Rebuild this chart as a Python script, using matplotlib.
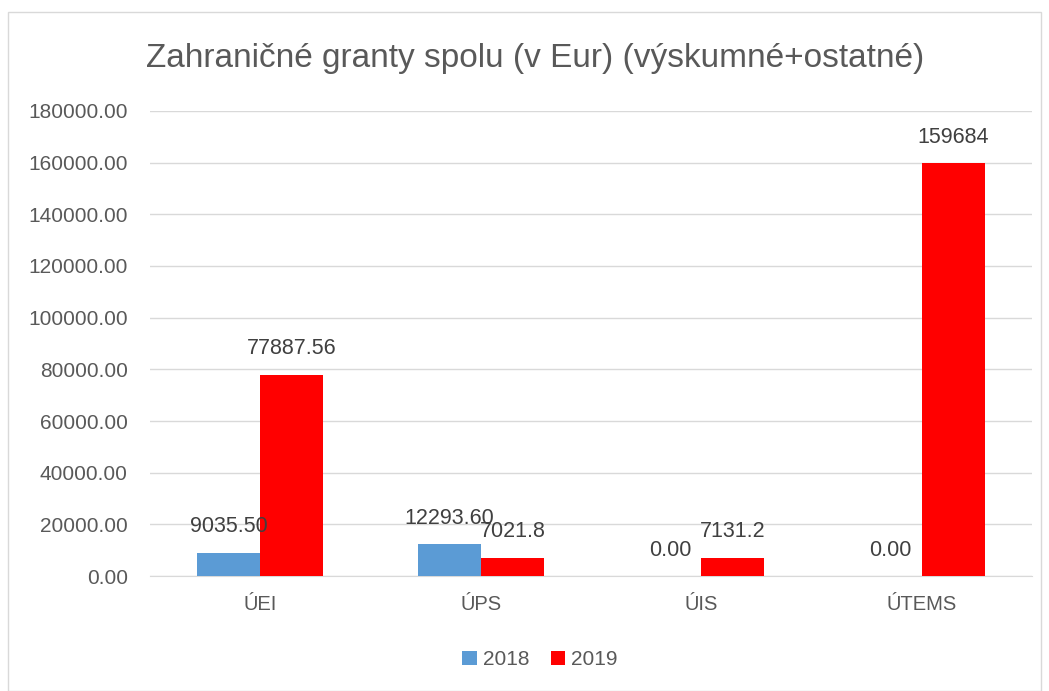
import matplotlib.pyplot as plt
import numpy as np
from matplotlib.patches import Rectangle

# data
categories = ["ÚEI", "ÚPS", "ÚIS", "ÚTEMS"]
values_2018 = [9035.50, 12293.60, 0.00, 0.00]
values_2019 = [77887.56, 7021.8, 7131.2, 159684]
labels_2018 = ["9035.50", "12293.60", "0.00", "0.00"]
labels_2019 = ["77887.56", "7021.8", "7131.2", "159684"]
yticks = np.arange(0, 180001, 20000)

plt.rcParams['font.family'] = ['Liberation Sans', 'DejaVu Sans']
txt = '#595959'

fig = plt.figure(figsize=(10.49, 6.91), dpi=100)
ax = fig.add_axes([0.143, 0.1664, 0.841, 0.673])

# ramik okolo grafu
fig.patches.append(Rectangle((0.008, 0.0), 0.984, 0.983, transform=fig.transFigure,
                             fill=False, edgecolor='#d9d9d9', linewidth=1))

x = np.arange(len(categories))
w = 0.286
ax.bar(x - w/2, values_2018, w, color='#5b9bd5', label='2018', zorder=3)
ax.bar(x + w/2, values_2019, w, color='#ff0000', label='2019', zorder=3)

# popisky hodnot
for xi, v, s in zip(x, values_2018, labels_2018):
    ax.text(xi - w/2, v + 6000, s, ha='center', va='bottom', fontsize=15.5, color='#404040', zorder=4)
for xi, v, s in zip(x, values_2019, labels_2019):
    ax.text(xi + w/2, v + 6000, s, ha='center', va='bottom', fontsize=15.5, color='#404040', zorder=4)

ax.set_xlim(-0.5, 3.5)
ax.set_ylim(0, 180000)
ax.set_yticks(yticks)
ax.set_yticklabels([f"{t:.2f}" for t in yticks])
ax.set_xticks(x)
ax.set_xticklabels(categories)
ax.tick_params(axis='y', length=0, labelsize=15, labelcolor=txt, pad=16)
ax.tick_params(axis='x', length=0, labelsize=14.5, labelcolor=txt, pad=14)
ax.grid(axis='y', color='#d9d9d9', linewidth=1, zorder=0)
for s in ['top', 'right', 'left']:
    ax.spines[s].set_visible(False)
ax.spines['bottom'].set_color('#d9d9d9')

fig.text(0.51, 0.915, "Zahraničné granty spolu (v Eur) (výskumné+ostatné)",
         ha='center', va='center', fontsize=24, color=txt)

leg = fig.legend(loc='center', bbox_to_anchor=(0.515, 0.045), ncol=2, frameon=False,
                 fontsize=15, handlelength=0.7, handleheight=0.7, handletextpad=0.3,
                 columnspacing=1.0)
for t in leg.get_texts():
    t.set_color(txt)

fig.savefig("out.png", dpi=100)
